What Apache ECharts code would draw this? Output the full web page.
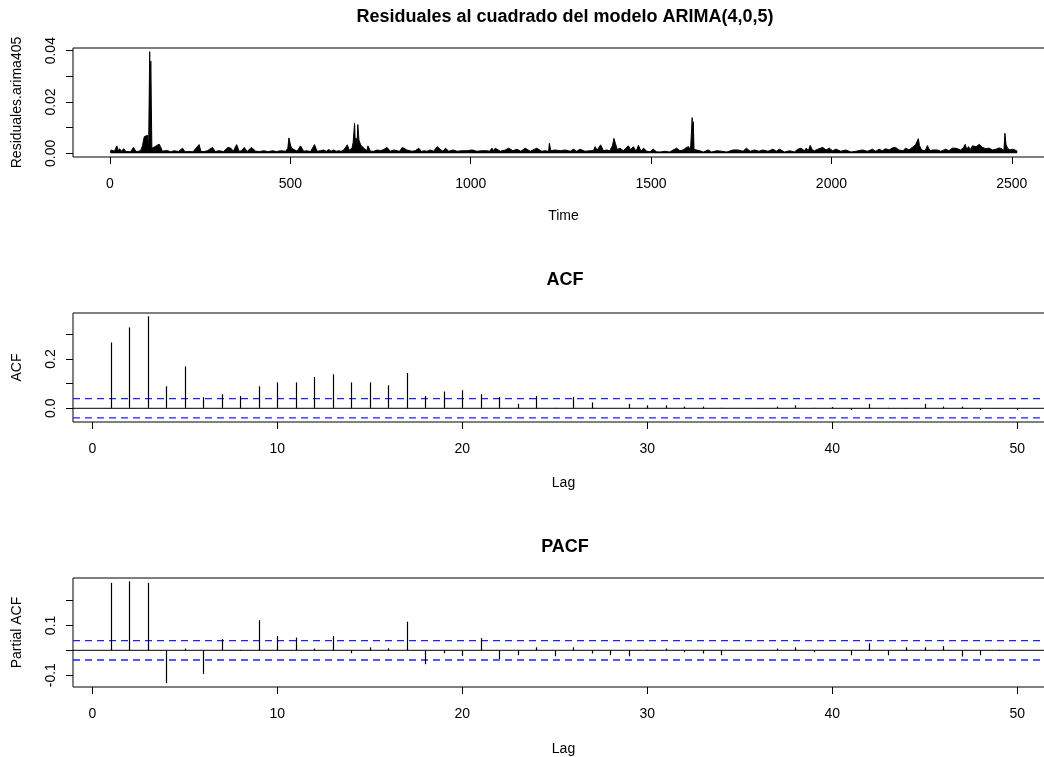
<!DOCTYPE html>
<html>
<head>
<meta charset="utf-8">
<script src="https://cdn.jsdelivr.net/npm/echarts@6/dist/echarts.min.js"></script>
<style>
  html, body { margin: 0; padding: 0; background: #ffffff; }
  #chart { width: 1044px; height: 757px; }
</style>
</head>
<body>
<div id="chart"></div>
<script>
// Squared residuals of the ARIMA(4,0,5) fit: time index and value
const residTime = [
  1, 3, 7, 12, 19, 23, 26, 32, 38, 44, 49, 57, 65, 72, 80, 86, 90, 95, 100, 104,
  107, 110, 111.5, 113, 116, 121, 125, 130, 136, 140, 145, 152, 160, 168, 178, 190, 201, 208, 215, 230,
  247, 252, 261, 270, 284, 292, 302, 315, 327, 335, 342, 351, 358, 365, 372, 380, 392, 404, 415, 427,
  438, 450, 462, 473, 487, 493, 496, 499, 503, 508, 519, 528, 537, 545, 556, 567, 574, 583, 592, 600,
  606, 613, 620, 627, 634, 641, 648, 653, 658, 663, 667, 671, 674, 678, 680, 682, 685, 687, 690, 695,
  699, 704, 708, 712, 715, 722, 731, 741, 750, 759, 768, 777, 787, 796, 803, 810, 814, 823, 837, 846,
  856, 863, 870, 879, 888, 897, 907, 916, 923, 930, 939, 951, 962, 976, 990, 1004, 1017, 1031, 1045, 1052,
  1059, 1064, 1068, 1082, 1096, 1105, 1117, 1128, 1139, 1151, 1165, 1183, 1197, 1206, 1216, 1218, 1222, 1234, 1248, 1262,
  1276, 1285, 1294, 1303, 1317, 1331, 1340, 1345, 1350, 1354, 1360, 1368, 1377, 1386, 1393, 1397, 1401, 1406, 1414, 1423,
  1430, 1437, 1443, 1451, 1458, 1465, 1472, 1479, 1488, 1497, 1506, 1515, 1525, 1538, 1552, 1561, 1571, 1580, 1589, 1598,
  1604, 1607, 1610, 1614, 1616, 1617, 1619, 1621, 1635, 1645, 1658, 1668, 1682, 1696, 1710, 1727, 1741, 1755, 1764, 1775,
  1787, 1799, 1810, 1824, 1838, 1847, 1856, 1870, 1884, 1897, 1907, 1916, 1925, 1930, 1936, 1941, 1947, 1953, 1962, 1967,
  1976, 1985, 1994, 2003, 2013, 2026, 2040, 2054, 2068, 2086, 2100, 2114, 2123, 2132, 2141, 2150, 2160, 2169, 2178, 2187,
  2192, 2198, 2206, 2215, 2224, 2229, 2233, 2238, 2241, 2244, 2250, 2260, 2266, 2273, 2280, 2294, 2303, 2317, 2326, 2335,
  2342, 2349, 2358, 2365, 2371, 2375, 2380, 2385, 2391, 2396, 2401, 2405, 2410, 2414, 2419, 2424, 2428, 2437, 2447, 2456,
  2465, 2472, 2478, 2481, 2484, 2488, 2495, 2502, 2509, 2515
];
const residSq = [
  0.0003, 0.0013, 0.0008, 0.0008, 0.0029, 0.0008, 0.0018, 0.0008, 0.0018, 0.0007, 0.0013, 0.0006, 0.0023, 0.0007, 0.0008, 0.0013, 0.0030, 0.0065, 0.0070, 0.0070,
  0.0010, 0.0396, 0.0020, 0.0360, 0.0020, 0.0026, 0.0026, 0.0029, 0.0036, 0.0026, 0.0008, 0.0010, 0.0010, 0.0006, 0.0010, 0.0007, 0.0020, 0.0006, 0.0007, 0.0006,
  0.0034, 0.0007, 0.0007, 0.0010, 0.0023, 0.0007, 0.0010, 0.0007, 0.0023, 0.0020, 0.0008, 0.0034, 0.0008, 0.0010, 0.0023, 0.0007, 0.0023, 0.0008, 0.0007, 0.0010,
  0.0006, 0.0010, 0.0007, 0.0010, 0.0008, 0.0020, 0.0060, 0.0040, 0.0020, 0.0020, 0.0008, 0.0029, 0.0008, 0.0010, 0.0007, 0.0034, 0.0008, 0.0010, 0.0013, 0.0008,
  0.0015, 0.0008, 0.0013, 0.0008, 0.0010, 0.0008, 0.0013, 0.0010, 0.0033, 0.0012, 0.0015, 0.0020, 0.0042, 0.0117, 0.0040, 0.0060, 0.0030, 0.0112, 0.0052, 0.0032,
  0.0025, 0.0020, 0.0015, 0.0010, 0.0029, 0.0008, 0.0008, 0.0013, 0.0010, 0.0015, 0.0023, 0.0008, 0.0013, 0.0010, 0.0008, 0.0023, 0.0020, 0.0013, 0.0008, 0.0010,
  0.0020, 0.0007, 0.0010, 0.0008, 0.0013, 0.0008, 0.0026, 0.0015, 0.0008, 0.0020, 0.0008, 0.0013, 0.0008, 0.0010, 0.0010, 0.0013, 0.0008, 0.0010, 0.0010, 0.0008,
  0.0020, 0.0010, 0.0020, 0.0008, 0.0013, 0.0020, 0.0010, 0.0016, 0.0008, 0.0020, 0.0008, 0.0020, 0.0008, 0.0010, 0.0008, 0.0039, 0.0010, 0.0013, 0.0010, 0.0013,
  0.0008, 0.0016, 0.0008, 0.0016, 0.0008, 0.0010, 0.0010, 0.0026, 0.0012, 0.0020, 0.0033, 0.0010, 0.0013, 0.0010, 0.0030, 0.0058, 0.0039, 0.0015, 0.0020, 0.0010,
  0.0020, 0.0029, 0.0015, 0.0026, 0.0008, 0.0031, 0.0008, 0.0020, 0.0008, 0.0006, 0.0016, 0.0006, 0.0005, 0.0008, 0.0005, 0.0013, 0.0020, 0.0010, 0.0013, 0.0023,
  0.0026, 0.0015, 0.0030, 0.0139, 0.0030, 0.0123, 0.0015, 0.0008, 0.0010, 0.0005, 0.0013, 0.0005, 0.0010, 0.0008, 0.0005, 0.0013, 0.0013, 0.0008, 0.0020, 0.0008,
  0.0013, 0.0008, 0.0013, 0.0008, 0.0016, 0.0008, 0.0016, 0.0005, 0.0010, 0.0005, 0.0016, 0.0020, 0.0010, 0.0020, 0.0010, 0.0031, 0.0013, 0.0010, 0.0016, 0.0020,
  0.0023, 0.0013, 0.0020, 0.0010, 0.0016, 0.0008, 0.0013, 0.0005, 0.0008, 0.0013, 0.0008, 0.0016, 0.0008, 0.0016, 0.0010, 0.0018, 0.0013, 0.0021, 0.0023, 0.0013,
  0.0020, 0.0010, 0.0020, 0.0013, 0.0023, 0.0026, 0.0033, 0.0035, 0.0057, 0.0030, 0.0013, 0.0010, 0.0030, 0.0010, 0.0013, 0.0013, 0.0008, 0.0016, 0.0010, 0.0020,
  0.0020, 0.0018, 0.0013, 0.0020, 0.0035, 0.0015, 0.0026, 0.0015, 0.0029, 0.0023, 0.0026, 0.0020, 0.0035, 0.0033, 0.0023, 0.0029, 0.0018, 0.0020, 0.0013, 0.0016,
  0.0021, 0.0018, 0.0010, 0.0078, 0.0035, 0.0020, 0.0013, 0.0016, 0.0013, 0.0008
];

// Sample autocorrelations, lags 1..50
const lags = [];
for (let k = 1; k <= 50; k++) lags.push(k);
const acfValues = [
  0.267, 0.328, 0.373, 0.089, 0.170, 0.045, 0.057, 0.050, 0.089, 0.105,
  0.105, 0.127, 0.138, 0.105, 0.105, 0.093, 0.143, 0.050, 0.068, 0.073,
  0.057, 0.046, 0.018, 0.050, 0.002, 0.046, 0.024, 0.001, 0.018, 0.012,
  0.012, 0.007, 0.007, 0.002, 0.001, -0.002, 0.007, 0.012, 0.002, 0.005,
  -0.007, 0.018, 0.002, -0.002, 0.018, 0.007, 0.007, -0.007, 0.001, -0.007
];
const pacfValues = [
  0.271, 0.277, 0.271, -0.132, 0.007, -0.095, 0.045, 0.002, 0.121, 0.057,
  0.051, 0.007, 0.057, -0.012, 0.012, 0.008, 0.115, -0.056, -0.012, -0.023,
  0.049, -0.035, -0.020, 0.012, -0.024, 0.012, -0.013, -0.020, -0.024, 0.002,
  0.007, -0.008, -0.013, -0.020, 0.001, -0.002, 0.007, 0.012, -0.008, 0.001,
  -0.020, 0.028, -0.020, 0.012, 0.012, 0.017, -0.025, -0.020, 0.002, -0.001
];
const confLimit = 0.039;

// Axis ticks and labels
const timeTicks = [0, 500, 1000, 1500, 2000, 2500];
const lagTicks = [0, 10, 20, 30, 40, 50];
const residYTicks = [0, 0.01, 0.02, 0.03, 0.04];
const residYLabels = [0, 0.02, 0.04];
const acfYTicks = [0, 0.1, 0.2, 0.3];
const acfYLabels = [0, 0.2];
const pacfYTicks = [-0.1, 0, 0.1, 0.2];
const pacfYLabels = [-0.1, 0.1];

const FONT = '"Liberation Sans", Arial, Helvetica, sans-serif';
const TIME_RANGE = [-102.6, 2617];
const LAG_RANGE = [-1.043, 51.98];

const chart = echarts.init(document.getElementById('chart'), null, { renderer: 'canvas' });

// the plot region runs past the right edge of the canvas
const gridBase = {
  left: 73, width: 981, height: 109, outerBoundsMode: 'none',
  show: true, borderColor: '#000', borderWidth: 1, backgroundColor: 'transparent'
};

function xAxisCfg(gridIndex, range, ticks, name, nameGap) {
  return {
    type: 'value', gridIndex: gridIndex, min: range[0], max: range[1],
    name: name, nameLocation: 'middle', nameGap: nameGap,
    nameTextStyle: { fontFamily: FONT, fontSize: 14, color: '#000' },
    axisLine: { show: false, onZero: false },
    splitLine: { show: false },
    axisTick: { show: true, length: 7, customValues: ticks, lineStyle: { color: '#000', width: 1 } },
    axisLabel: {
      customValues: ticks, margin: 20, fontFamily: FONT, fontSize: 14, color: '#000',
      formatter: function (v) { return String(Math.round(v)); }
    }
  };
}

function yAxisCfg(gridIndex, min, max, ticks, labels, digits, name) {
  return {
    type: 'value', gridIndex: gridIndex, min: min, max: max,
    name: name, nameLocation: 'middle', nameGap: 49,
    nameTextStyle: { fontFamily: FONT, fontSize: 14, color: '#000' },
    axisLine: { show: false, onZero: false },
    splitLine: { show: false },
    axisTick: { show: true, length: 7, customValues: ticks, lineStyle: { color: '#000', width: 1 } },
    axisLabel: {
      customValues: labels, rotate: 90, margin: 15,
      fontFamily: FONT, fontSize: 14, color: '#000',
      formatter: function (v) { return Number(v).toFixed(digits); }
    }
  };
}

// vertical spikes from zero, one per lag
function spikeRenderer(params, api) {
  const x = api.value(0);
  const p0 = api.coord([x, 0]);
  const p1 = api.coord([x, api.value(1)]);
  const px = Math.round(p0[0]) + 0.5;
  return {
    type: 'line',
    shape: { x1: px, y1: p0[1], x2: px, y2: p1[1] },
    style: { stroke: '#000', lineWidth: 1.2 }
  };
}

function hLine(xi, yi, yv, color, dashed) {
  return {
    type: 'line', xAxisIndex: xi, yAxisIndex: yi, silent: true, symbol: 'none',
    data: [[LAG_RANGE[0], yv], [LAG_RANGE[1], yv]],
    lineStyle: { color: color, width: dashed ? 1.3 : 1, type: dashed ? [7, 5] : 'solid' },
    animation: false, z: 1
  };
}

function titleText(text, y) {
  return {
    type: 'text', x: 565, y: y, silent: true,
    style: { text: text, font: 'bold 18px ' + FONT, fill: '#000',
             textAlign: 'center', align: 'center', textVerticalAlign: 'middle', verticalAlign: 'middle' }
  };
}

const residData = residTime.map((t, i) => [t, residSq[i]]);

const option = {
  backgroundColor: '#ffffff',
  animation: false,
  grid: [
    Object.assign({ top: 48 }, gridBase),
    Object.assign({ top: 313 }, gridBase),
    Object.assign({ top: 578 }, gridBase)
  ],
  xAxis: [
    xAxisCfg(0, TIME_RANGE, timeTicks, 'Time', 52),
    xAxisCfg(1, LAG_RANGE, lagTicks, 'Lag', 54),
    xAxisCfg(2, LAG_RANGE, lagTicks, 'Lag', 55)
  ],
  yAxis: [
    yAxisCfg(0, -0.00144, 0.04105, residYTicks, residYLabels, 2, 'Residuales.arima405'),
    yAxisCfg(1, -0.0555, 0.3863, acfYTicks, acfYLabels, 1, 'ACF'),
    yAxisCfg(2, -0.1474, 0.2904, pacfYTicks, pacfYLabels, 1, 'Partial ACF')
  ],
  graphic: [
    titleText('Residuales al cuadrado del modelo ARIMA(4,0,5)', 17),
    titleText('ACF', 280),
    titleText('PACF', 547)
  ],
  series: [
    {
      type: 'line', xAxisIndex: 0, yAxisIndex: 0, data: residData,
      symbol: 'none', showSymbol: false, silent: true,
      lineStyle: { color: '#000', width: 1 },
      areaStyle: { color: '#000', opacity: 1 }
    },
    hLine(1, 1, 0, '#000', false),
    hLine(1, 1, confLimit, '#2020ff', true),
    hLine(1, 1, -confLimit, '#2020ff', true),
    {
      type: 'custom', xAxisIndex: 1, yAxisIndex: 1, silent: true, z: 3,
      data: lags.map((k, i) => [k, acfValues[i]]),
      renderItem: spikeRenderer
    },
    hLine(2, 2, 0, '#000', false),
    hLine(2, 2, confLimit, '#2020ff', true),
    hLine(2, 2, -confLimit, '#2020ff', true),
    {
      type: 'custom', xAxisIndex: 2, yAxisIndex: 2, silent: true, z: 3,
      data: lags.map((k, i) => [k, pacfValues[i]]),
      renderItem: spikeRenderer
    }
  ]
};

chart.setOption(option);
</script>
</body>
</html>
